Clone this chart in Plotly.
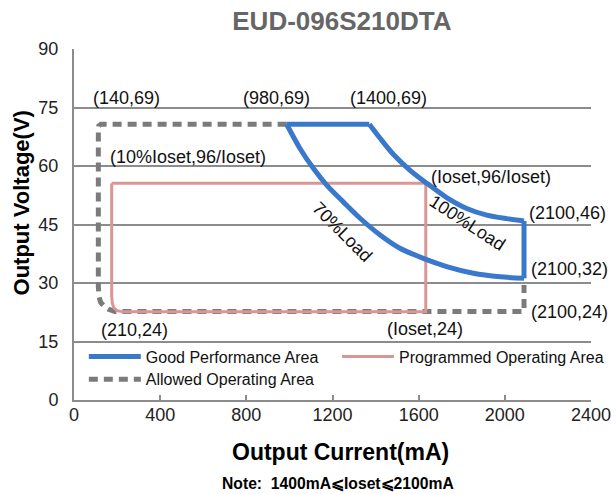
import plotly.graph_objects as go

# ---- data (mA, V) ----
load70_I = [987, 1049, 1111, 1173, 1250, 1328, 1421, 1513, 1622, 1730, 1854, 1978, 2089]
load70_V = [70.7, 64.5, 59.4, 55.1, 50.8, 46.6, 42.3, 38.9, 36.3, 34.2, 32.5, 31.6, 31.2]
load100_I = [1371, 1421, 1482, 1560, 1637, 1730, 1823, 1916, 2009, 2089]
load100_V = [70.7, 67.1, 63.0, 58.9, 55.6, 51.9, 49.1, 47.4, 46.5, 45.9]

allowed_I = [987, 125, 115, 113, 113, 116, 124, 140, 160, 190, 2089, 2089]
allowed_V = [70.7, 70.7, 70.3, 69.3, 29.0, 26.5, 25.0, 24.0, 23.3, 22.7, 22.7, 29.5]

prog_I = [175, 1633, 1633, 229, 200, 185, 178, 175, 175]
prog_V = [55.6, 55.6, 22.6, 22.6, 22.9, 23.6, 24.8, 26.5, 55.6]

x_ticks = [0, 400, 800, 1200, 1600, 2000, 2400]
y_ticks = [0, 15, 30, 45, 60, 75, 90]

FONT = "Liberation Sans, Arial, sans-serif"
BLUE = "#3a78cc"
PINK = "#d99694"
GRAY = "#7b7b7b"
GRID = "#8c8c8c"

fig = go.Figure()
fig.add_trace(go.Scatter(x=allowed_I, y=allowed_V, mode="lines", name="Allowed Operating Area",
                         line=dict(color=GRAY, width=5, dash="9px,6px"), legend="legend2",
                         hoverinfo="skip"))
fig.add_trace(go.Scatter(x=prog_I, y=prog_V, mode="lines", name="Programmed Operating Area",
                         line=dict(color=PINK, width=3), legend="legend3",
                         hoverinfo="skip"))

blue_line = dict(color=BLUE, width=5)
# top edge
fig.add_trace(go.Scatter(x=[load70_I[0], load100_I[0]], y=[load70_V[0], load100_V[0]],
                         mode="lines", name="Good Performance Area", legendgroup="good",
                         legend="legend", line=blue_line, hoverinfo="skip"))
# 100% load curve
fig.add_trace(go.Scatter(x=load100_I, y=load100_V, mode="lines", legendgroup="good",
                         showlegend=False, line=dict(blue_line, shape="spline", smoothing=0.8),
                         hoverinfo="skip"))
# right edge
fig.add_trace(go.Scatter(x=[load100_I[-1], load70_I[-1]], y=[load100_V[-1], load70_V[-1]],
                         mode="lines", legendgroup="good", showlegend=False, line=blue_line,
                         hoverinfo="skip"))
# 70% load curve
fig.add_trace(go.Scatter(x=load70_I, y=load70_V, mode="lines", legendgroup="good",
                         showlegend=False, line=dict(blue_line, shape="spline", smoothing=0.8),
                         hoverinfo="skip"))

ann = []
def label(text, x, y, angle=0, size=18):
    ann.append(dict(text=text, x=x, y=y, xref="x", yref="y", showarrow=False,
                    xanchor="center", yanchor="middle",
                    textangle=angle, font=dict(family=FONT, size=size, color="#111")))

label("(140,69)", 246, 77.4)
label("(980,69)", 942, 77.4)
label("(1400,69)", 1458, 77.4)
label("(10%Ioset,96/Ioset)", 529, 62.4)
label("(Ioset,96/Ioset)", 1936, 57.2)
label("(2100,46)", 2293, 47.9)
label("(2100,32)", 2298, 33.6)
label("(2100,24)", 2298, 22.6)
label("(210,24)", 283, 17.9)
label("(Ioset,24)", 1629, 18.2)
label("70%Load", 1245, 43.0, angle=45)
label("100%Load", 1826, 45.3, angle=33)

ann.append(dict(text="Output Current(mA)", x=0.516, y=-0.148, xref="paper", yref="paper",
                xanchor="center", yanchor="middle", showarrow=False,
                font=dict(family=FONT, size=23, color="#000", weight="bold")))
ann.append(dict(text="Note:  1400mA⩽Ioset⩽2100mA", x=0.51, y=-0.239, xref="paper", yref="paper",
                xanchor="center", yanchor="middle", showarrow=False,
                font=dict(family=FONT, size=15.7, color="#000", weight="bold")))
ann.append(dict(text="Output Voltage(V)", x=-0.1025, y=0.56, xref="paper", yref="paper",
                xanchor="center", yanchor="middle", showarrow=False, textangle=-90,
                font=dict(family=FONT, size=22, color="#000", weight="bold")))

leg_common = dict(orientation="h", xanchor="left", yanchor="middle", itemwidth=52,
                  bgcolor="rgba(0,0,0,0)", font=dict(family=FONT, size=16, color="#111"))

fig.update_layout(
    width=616, height=494,
    margin=dict(l=74, r=25, t=49, b=94, autoexpand=False),
    paper_bgcolor="white", plot_bgcolor="white",
    title=dict(text="EUD-096S210DTA", x=0.555, xanchor="center", y=1 - 21 / 494, yanchor="middle",
               font=dict(family=FONT, size=26, color="#666666", weight="bold")),
    annotations=ann,
    legend=dict(leg_common, x=0.019, y=0.1234),
    legend3=dict(leg_common, x=0.5087, y=0.1234),
    legend2=dict(leg_common, x=0.019, y=0.059),
    xaxis=dict(range=[0, 2400], tickvals=x_ticks, ticktext=[str(v) for v in x_ticks],
               showgrid=False, zeroline=False, showline=True, linecolor=GRID, linewidth=2,
               ticks="inside", ticklen=5, tickwidth=2, tickcolor=GRID,
               tickfont=dict(family=FONT, size=18, color="#222"), ticklabelstandoff=-3),
    yaxis=dict(range=[0, 90], tickvals=y_ticks, ticktext=[str(v) for v in y_ticks],
               showgrid=True, gridcolor=GRID, gridwidth=2, zeroline=False,
               showline=True, linecolor=GRID, linewidth=2, ticks="",
               tickfont=dict(family=FONT, size=18, color="#222"), ticklabelstandoff=10),
    showlegend=True,
)

fig.write_html("out.html", config={"displayModeBar": False},
               post_script="document.body.style.margin='0';")
